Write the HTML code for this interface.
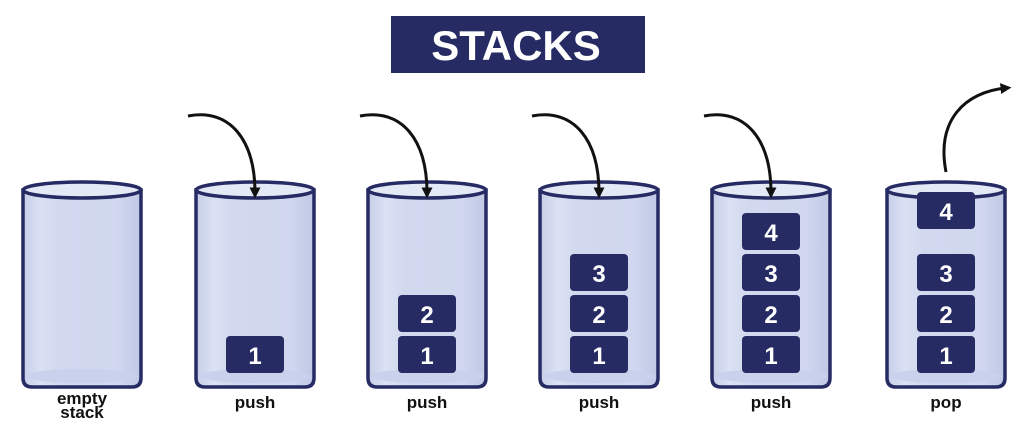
<!DOCTYPE html>
<html><head><meta charset="utf-8"><style>
body{margin:0;background:#fff;}
svg{display:block;}
</style></head><body>
<svg width="1024" height="426" viewBox="0 0 1024 426" xmlns="http://www.w3.org/2000/svg" font-family="Liberation Sans, sans-serif">
<defs>
<linearGradient id="g" x1="0" x2="1">
<stop offset="0" stop-color="#c6cee8"/><stop offset="0.15" stop-color="#dbe1f3"/><stop offset="0.3" stop-color="#d2d9ef"/><stop offset="0.8" stop-color="#d0d7ee"/><stop offset="1" stop-color="#bfc8e5"/>
</linearGradient>
<marker id="ah" markerWidth="11" markerHeight="11" refX="5" refY="5" orient="auto" markerUnits="userSpaceOnUse" viewBox="0 0 10 10">
<path d="M0,0 L10,5 L0,10 Z" fill="#111"/>
</marker>
</defs>
<rect x="391" y="16" width="254" height="57" fill="#262b63"/>
<text x="516" y="60" text-anchor="middle" font-size="42" font-weight="bold" fill="#fff">STACKS</text>

<g id="cyls" stroke="#262b63" stroke-width="3.5">
</g>
<script>
var xs=[23,196,368,540,712,887],ns="http://www.w3.org/2000/svg",g=document.getElementById('cyls'),svg=g.ownerSVGElement;
function el(t,a,p){var e=document.createElementNS(ns,t);for(var k in a)e.setAttribute(k,a[k]);(p||svg).appendChild(e);return e;}
var blocks=[[],[336],[336,295],[336,295,254],[336,295,254,213],[336,295,254,192]];
xs.forEach(function(x,i){
 var w=118,cx=x+w/2;
 el('path',{d:'M'+x+',190 L'+x+',378 Q'+x+',387 '+(x+9)+',387 L'+(x+w-9)+',387 Q'+(x+w)+',387 '+(x+w)+',378 L'+(x+w)+',190 Z',fill:'url(#g)'},g);
 el('ellipse',{cx:cx,cy:376,rx:w/2-3,ry:7,fill:'#c9d1ec',stroke:'none'},g);
 el('ellipse',{cx:cx,cy:190,rx:w/2,ry:8,fill:'#e4e9f6'},g);
 blocks[i].forEach(function(y,j){
  el('rect',{x:cx-29,y:y,width:58,height:37,rx:4,fill:'#262b63'});
  var t=el('text',{x:cx,y:y+28,'text-anchor':'middle','font-size':'24','font-weight':'bold',fill:'#fff'});t.textContent=(j+1);
 });
 if(i>=1&&i<=4){el('path',{d:'M'+(cx-67)+',116 C'+(cx-25)+',108 '+cx+',140 '+cx+',193',fill:'none',stroke:'#111','stroke-width':3,'marker-end':'url(#ah)'});}
});
el('path',{d:'M946,172 C936,120 965,92 1006,88',fill:'none',stroke:'#111','stroke-width':3,'marker-end':'url(#ah)'});
</script>
<g font-size="17" font-weight="bold" fill="#111" text-anchor="middle">
<text x="82" y="404">empty</text><text x="82" y="418">stack</text>
<text x="255" y="408">push</text><text x="427" y="408">push</text><text x="599" y="408">push</text><text x="771" y="408">push</text><text x="946" y="408">pop</text>
</g>
</svg>
</body></html>
